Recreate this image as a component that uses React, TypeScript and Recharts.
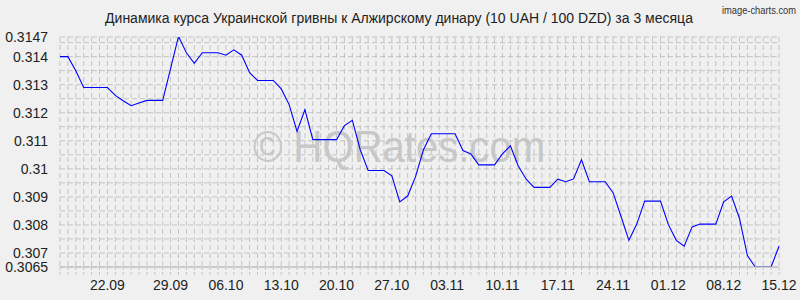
import React from 'react';
import { LineChart, Line, XAxis, YAxis, CartesianGrid } from 'recharts';

const values: number[] = [
  0.3140, 0.3140, 0.3135, 0.3129, 0.3129, 0.3129, 0.3129, 0.31262, 0.31243, 0.31225,
  0.31235, 0.31244, 0.31244, 0.31244, 0.31358, 0.31472, 0.31414, 0.31376, 0.31414, 0.31414,
  0.31414, 0.31405, 0.31424, 0.31405, 0.31343, 0.31315, 0.31315, 0.31315, 0.31285, 0.31229,
  0.31133, 0.31211, 0.31104, 0.31104, 0.31104, 0.31104, 0.31154, 0.31173, 0.31068, 0.30994,
  0.30994, 0.30994, 0.30975, 0.30882, 0.30903, 0.30972, 0.31068, 0.31125, 0.31125, 0.31125,
  0.31125, 0.31065, 0.31053, 0.31014, 0.31014, 0.31014, 0.31053, 0.31082, 0.3101, 0.30963,
  0.30934, 0.30934, 0.30934, 0.30963, 0.30954, 0.30964, 0.31032, 0.30954, 0.30954, 0.30954,
  0.30915, 0.30831, 0.30745, 0.30803, 0.30885, 0.30885, 0.30885, 0.30801, 0.30745, 0.30724,
  0.30793, 0.30803, 0.30803, 0.30803, 0.30882, 0.30903, 0.30823, 0.30691, 0.3065, 0.3065,
  0.3065, 0.30724,
];

const tickLabels: string[] = ['22.09', '29.09', '06.10', '13.10', '20.10', '27.10', '03.11', '10.11', '17.11', '24.11', '01.12', '08.12', '15.12'];
const tickIndices: number[] = [6, 14, 21, 28, 35, 42, 49, 56, 63, 70, 77, 84, 91];

const yTicks: number[] = [0.3065, 0.307, 0.3075, 0.308, 0.3085, 0.309, 0.3095, 0.31, 0.3105, 0.311, 0.3115, 0.312, 0.3125, 0.313, 0.3135, 0.314, 0.3145, 0.3147];
const yLabels: number[] = [0.3065, 0.307, 0.308, 0.309, 0.31, 0.311, 0.312, 0.313, 0.314, 0.3147];

const title = 'Динамика курса Украинской гривны к Алжирскому динару (10 UAH / 100 DZD) за 3 месяца';
const watermark = '© HQRates.com';
const credit = 'image-charts.com';

const data = values.map((v, i) => ({ i, v }));
const xTicks = data.map((d) => d.i);

const FONT = '"Liberation Sans", Arial, sans-serif';

const fmtX = (i: number) => {
  const k = tickIndices.indexOf(i);
  return k >= 0 ? tickLabels[k] : '';
};
const fmtY = (v: number) => (yLabels.includes(v) ? String(v) : '');

export default function App() {
  return (
    <div style={{ position: 'absolute', left: 0, top: 0, width: 800, height: 300, background: '#f0f0f0', fontFamily: FONT }}>
      <svg width={800} height={300} style={{ position: 'absolute', left: 0, top: 0 }}>
        <text x={253} y={162} fontSize={45} fill="#c8c8c8" fontFamily={FONT} textLength={292} lengthAdjust="spacingAndGlyphs">
          {watermark}
        </text>
        <text x={399} y={23} fontSize={14} fill="#222" fontFamily={FONT} textAnchor="middle">
          {title}
        </text>
        <text x={796} y={14} fontSize={11} fill="#333" fontFamily={FONT} textAnchor="end" textLength={74} lengthAdjust="spacingAndGlyphs">
          {credit}
        </text>
      </svg>
      <div style={{ position: 'absolute', left: 0, top: 0 }}>
        <LineChart width={800} height={300} data={data} margin={{ top: 37, right: 21, bottom: 0, left: 0 }}>
          <CartesianGrid stroke="#c4c4c4" strokeDasharray="5 3" strokeWidth={1} horizontal vertical syncWithTicks />
          <XAxis
            dataKey="i"
            type="number"
            domain={[0, 91]}
            ticks={xTicks}
            interval={0}
            tickFormatter={fmtX}
            height={33}
            tickSize={8}
            tickMargin={5}
            tickLine={{ stroke: '#c4c4c4', strokeDasharray: '3 2' }}
            axisLine={{ stroke: '#b8b8b8' }}
            tick={{ fontSize: 14, fill: '#222', fontFamily: FONT }}
          />
          <YAxis
            type="number"
            domain={[0.3065, 0.3147]}
            ticks={yTicks}
            interval={0}
            tickFormatter={fmtY}
            width={60}
            tickLine={false}
            tickSize={0}
            tickMargin={12}
            axisLine={false}
            tick={{ fontSize: 14, fill: '#222', fontFamily: FONT }}
            allowDataOverflow
          />
          <Line type="linear" dataKey="v" stroke="#0000ff" strokeWidth={1.1} dot={false} isAnimationActive={false} />
        </LineChart>
      </div>
    </div>
  );
}
